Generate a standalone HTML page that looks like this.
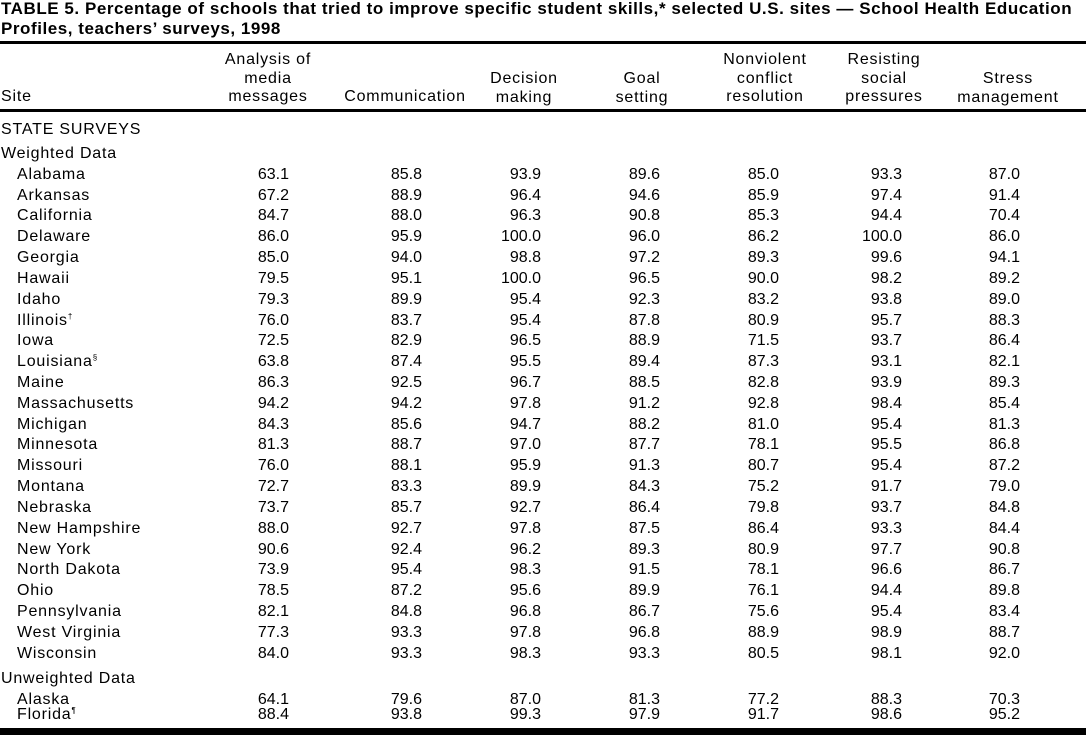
<!DOCTYPE html>
<html><head><meta charset="utf-8">
<style>
body{margin:0;background:#fff;}
#w{position:relative;width:1086px;height:735px;overflow:hidden;font-family:"Liberation Sans",Arial,sans-serif;color:#000;font-size:16px;letter-spacing:0.8px;}
.t{position:absolute;left:1px;font-weight:bold;font-size:17px;letter-spacing:0.55px;line-height:20px;white-space:nowrap;}
.rule{position:absolute;left:0;width:1086px;background:#000;}
.r{position:absolute;left:0;width:1086px;height:20px;line-height:20px;white-space:nowrap;}
.r span{position:absolute;top:0;}
.r span[class^=c]{letter-spacing:0;}
.n{left:17px;}
.g{left:1px;}
.c1{right:797px}.c2{right:664px}.c3{right:545px}.c4{right:426px}.c5{right:307px}.c6{right:184px}.c7{right:66px}
.h{position:absolute;text-align:center;line-height:18.5px;white-space:nowrap;transform:translateX(-50%);}
sup{font-size:8px;vertical-align:6px;line-height:0;}
</style></head><body><div id="w">
<div class="t" style="top:-1px">TABLE 5. Percentage of schools that tried to improve specific student skills,* selected U.S. sites — School Health Education</div>
<div class="t" style="top:19px">Profiles, teachers’ surveys, 1998</div>
<div class="rule" style="top:41px;height:3px"></div>
<div class="h" style="top:88px;transform:none;left:1px">Site</div>
<div class="h" style="left:268px;top:51px">Analysis of<br>media<br>messages</div>
<div class="h" style="left:405px;top:88px">Communication</div>
<div class="h" style="left:524px;top:70px">Decision<br>making</div>
<div class="h" style="left:642px;top:70px">Goal<br>setting</div>
<div class="h" style="left:765px;top:51px">Nonviolent<br>conflict<br>resolution</div>
<div class="h" style="left:884px;top:51px">Resisting<br>social<br>pressures</div>
<div class="h" style="left:1008px;top:70px">Stress<br>management</div>
<div class="rule" style="top:109px;height:3px"></div>
<div class="r" style="top:120px"><span class="g">STATE SURVEYS</span></div>
<div class="r" style="top:144px"><span class="g">Weighted Data</span></div>
<div class="r" style="top:165px"><span class="n">Alabama</span><span class="c1">63.1</span><span class="c2">85.8</span><span class="c3">93.9</span><span class="c4">89.6</span><span class="c5">85.0</span><span class="c6">93.3</span><span class="c7">87.0</span></div>
<div class="r" style="top:186px"><span class="n">Arkansas</span><span class="c1">67.2</span><span class="c2">88.9</span><span class="c3">96.4</span><span class="c4">94.6</span><span class="c5">85.9</span><span class="c6">97.4</span><span class="c7">91.4</span></div>
<div class="r" style="top:206px"><span class="n">California</span><span class="c1">84.7</span><span class="c2">88.0</span><span class="c3">96.3</span><span class="c4">90.8</span><span class="c5">85.3</span><span class="c6">94.4</span><span class="c7">70.4</span></div>
<div class="r" style="top:227px"><span class="n">Delaware</span><span class="c1">86.0</span><span class="c2">95.9</span><span class="c3">100.0</span><span class="c4">96.0</span><span class="c5">86.2</span><span class="c6">100.0</span><span class="c7">86.0</span></div>
<div class="r" style="top:248px"><span class="n">Georgia</span><span class="c1">85.0</span><span class="c2">94.0</span><span class="c3">98.8</span><span class="c4">97.2</span><span class="c5">89.3</span><span class="c6">99.6</span><span class="c7">94.1</span></div>
<div class="r" style="top:269px"><span class="n">Hawaii</span><span class="c1">79.5</span><span class="c2">95.1</span><span class="c3">100.0</span><span class="c4">96.5</span><span class="c5">90.0</span><span class="c6">98.2</span><span class="c7">89.2</span></div>
<div class="r" style="top:290px"><span class="n">Idaho</span><span class="c1">79.3</span><span class="c2">89.9</span><span class="c3">95.4</span><span class="c4">92.3</span><span class="c5">83.2</span><span class="c6">93.8</span><span class="c7">89.0</span></div>
<div class="r" style="top:311px"><span class="n">Illinois<sup>†</sup></span><span class="c1">76.0</span><span class="c2">83.7</span><span class="c3">95.4</span><span class="c4">87.8</span><span class="c5">80.9</span><span class="c6">95.7</span><span class="c7">88.3</span></div>
<div class="r" style="top:331px"><span class="n">Iowa</span><span class="c1">72.5</span><span class="c2">82.9</span><span class="c3">96.5</span><span class="c4">88.9</span><span class="c5">71.5</span><span class="c6">93.7</span><span class="c7">86.4</span></div>
<div class="r" style="top:352px"><span class="n">Louisiana<sup>§</sup></span><span class="c1">63.8</span><span class="c2">87.4</span><span class="c3">95.5</span><span class="c4">89.4</span><span class="c5">87.3</span><span class="c6">93.1</span><span class="c7">82.1</span></div>
<div class="r" style="top:373px"><span class="n">Maine</span><span class="c1">86.3</span><span class="c2">92.5</span><span class="c3">96.7</span><span class="c4">88.5</span><span class="c5">82.8</span><span class="c6">93.9</span><span class="c7">89.3</span></div>
<div class="r" style="top:394px"><span class="n">Massachusetts</span><span class="c1">94.2</span><span class="c2">94.2</span><span class="c3">97.8</span><span class="c4">91.2</span><span class="c5">92.8</span><span class="c6">98.4</span><span class="c7">85.4</span></div>
<div class="r" style="top:415px"><span class="n">Michigan</span><span class="c1">84.3</span><span class="c2">85.6</span><span class="c3">94.7</span><span class="c4">88.2</span><span class="c5">81.0</span><span class="c6">95.4</span><span class="c7">81.3</span></div>
<div class="r" style="top:435px"><span class="n">Minnesota</span><span class="c1">81.3</span><span class="c2">88.7</span><span class="c3">97.0</span><span class="c4">87.7</span><span class="c5">78.1</span><span class="c6">95.5</span><span class="c7">86.8</span></div>
<div class="r" style="top:456px"><span class="n">Missouri</span><span class="c1">76.0</span><span class="c2">88.1</span><span class="c3">95.9</span><span class="c4">91.3</span><span class="c5">80.7</span><span class="c6">95.4</span><span class="c7">87.2</span></div>
<div class="r" style="top:477px"><span class="n">Montana</span><span class="c1">72.7</span><span class="c2">83.3</span><span class="c3">89.9</span><span class="c4">84.3</span><span class="c5">75.2</span><span class="c6">91.7</span><span class="c7">79.0</span></div>
<div class="r" style="top:498px"><span class="n">Nebraska</span><span class="c1">73.7</span><span class="c2">85.7</span><span class="c3">92.7</span><span class="c4">86.4</span><span class="c5">79.8</span><span class="c6">93.7</span><span class="c7">84.8</span></div>
<div class="r" style="top:519px"><span class="n">New Hampshire</span><span class="c1">88.0</span><span class="c2">92.7</span><span class="c3">97.8</span><span class="c4">87.5</span><span class="c5">86.4</span><span class="c6">93.3</span><span class="c7">84.4</span></div>
<div class="r" style="top:540px"><span class="n">New York</span><span class="c1">90.6</span><span class="c2">92.4</span><span class="c3">96.2</span><span class="c4">89.3</span><span class="c5">80.9</span><span class="c6">97.7</span><span class="c7">90.8</span></div>
<div class="r" style="top:560px"><span class="n">North Dakota</span><span class="c1">73.9</span><span class="c2">95.4</span><span class="c3">98.3</span><span class="c4">91.5</span><span class="c5">78.1</span><span class="c6">96.6</span><span class="c7">86.7</span></div>
<div class="r" style="top:581px"><span class="n">Ohio</span><span class="c1">78.5</span><span class="c2">87.2</span><span class="c3">95.6</span><span class="c4">89.9</span><span class="c5">76.1</span><span class="c6">94.4</span><span class="c7">89.8</span></div>
<div class="r" style="top:602px"><span class="n">Pennsylvania</span><span class="c1">82.1</span><span class="c2">84.8</span><span class="c3">96.8</span><span class="c4">86.7</span><span class="c5">75.6</span><span class="c6">95.4</span><span class="c7">83.4</span></div>
<div class="r" style="top:623px"><span class="n">West Virginia</span><span class="c1">77.3</span><span class="c2">93.3</span><span class="c3">97.8</span><span class="c4">96.8</span><span class="c5">88.9</span><span class="c6">98.9</span><span class="c7">88.7</span></div>
<div class="r" style="top:644px"><span class="n">Wisconsin</span><span class="c1">84.0</span><span class="c2">93.3</span><span class="c3">98.3</span><span class="c4">93.3</span><span class="c5">80.5</span><span class="c6">98.1</span><span class="c7">92.0</span></div>
<div class="r" style="top:669px"><span class="g">Unweighted Data</span></div>
<div class="r" style="top:690px"><span class="n">Alaska</span><span class="c1">64.1</span><span class="c2">79.6</span><span class="c3">87.0</span><span class="c4">81.3</span><span class="c5">77.2</span><span class="c6">88.3</span><span class="c7">70.3</span></div>
<div class="r" style="top:705px"><span class="n">Florida<sup>¶</sup></span><span class="c1">88.4</span><span class="c2">93.8</span><span class="c3">99.3</span><span class="c4">97.9</span><span class="c5">91.7</span><span class="c6">98.6</span><span class="c7">95.2</span></div>
<div class="rule" style="top:728px;height:7px"></div>
</div></body></html>
